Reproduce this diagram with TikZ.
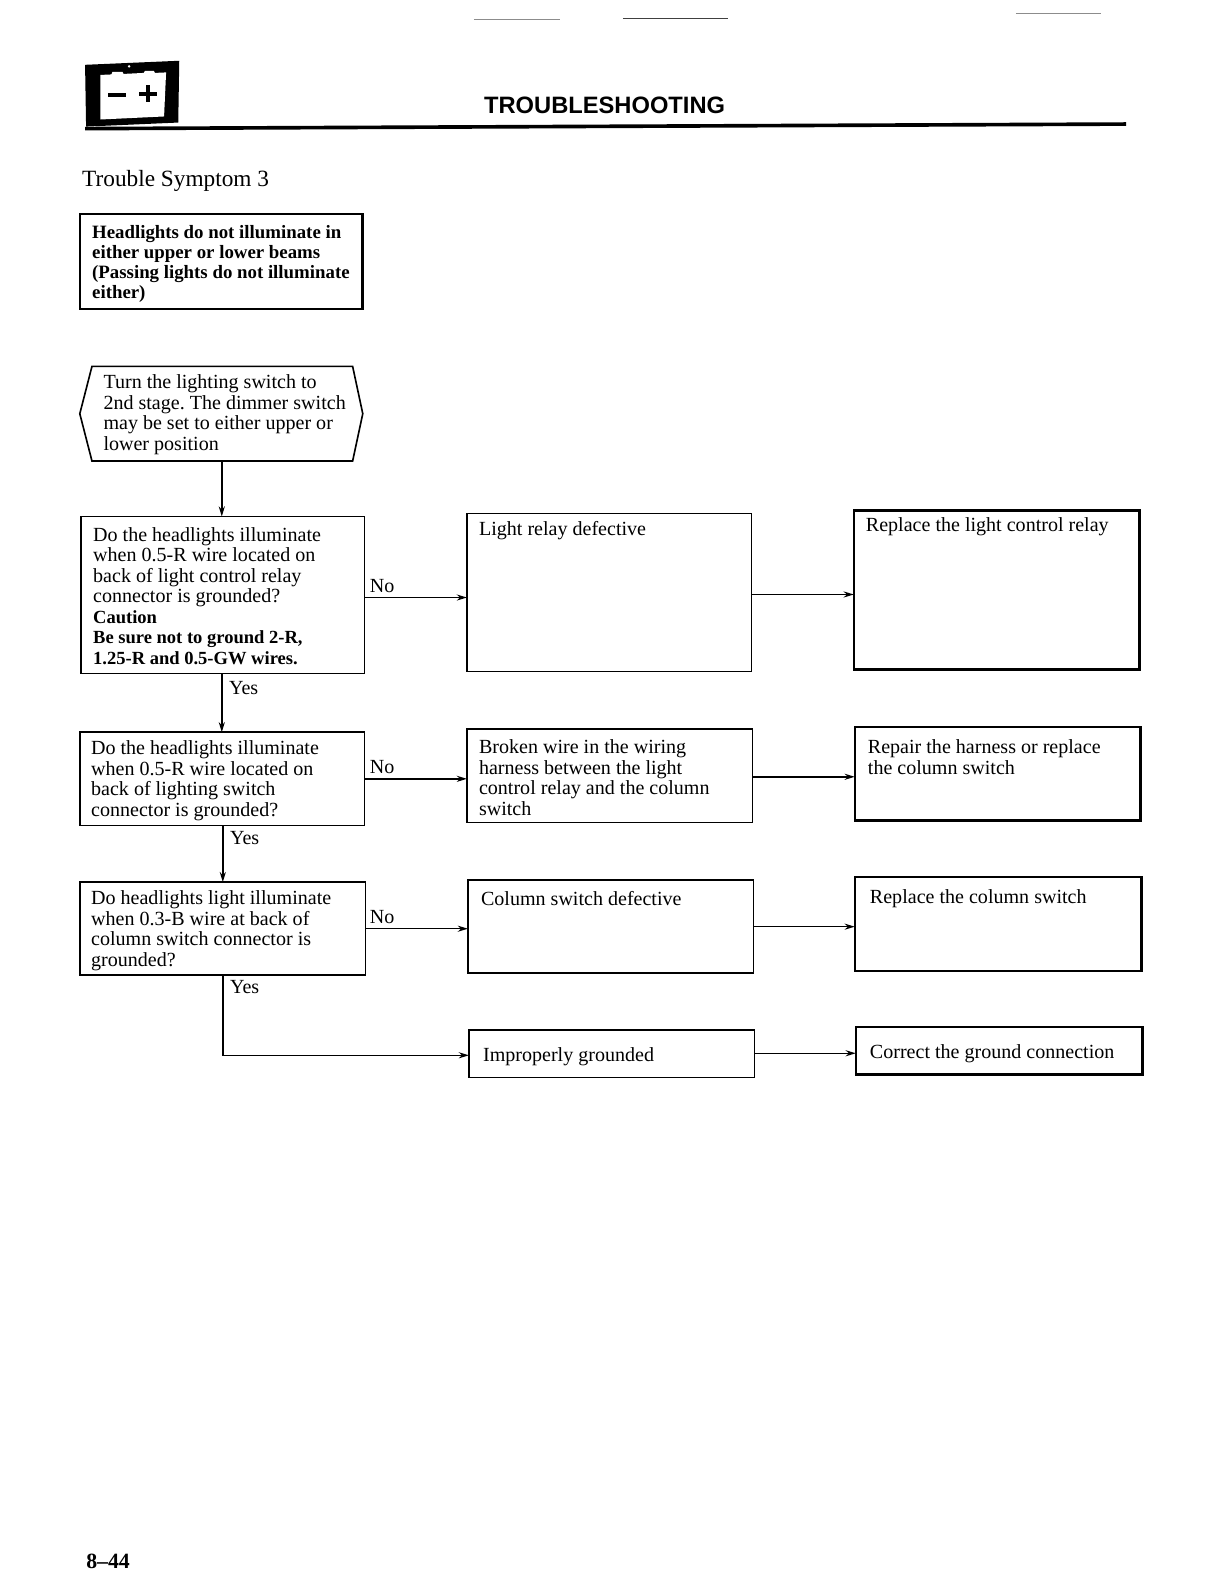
\documentclass[tikz,border=0pt]{standalone}
\usepackage{fontspec}
\setmainfont{Liberation Serif}
\newfontfamily\headfont{Liberation Sans}
\usetikzlibrary{arrows.meta}
\newcommand{\bodysize}{\fontsize{19.8}{20.3}\selectfont}
\newcommand{\warnsize}{\fontsize{18.3}{20.3}\selectfont}
\newcommand{\cellbox}[9]{% style, name, x, y, w, h, padding-left, padding-top, text
  \node[#1,anchor=north west,minimum width=#5pt,minimum height=#6pt] (#2) at (#3,#4)
   {\hspace*{#7pt}\parbox[c][#6pt][t]{\dimexpr#5pt-#7pt\relax}{\vspace{#8pt}\raggedright\frenchspacing\bodysize\strut #9}};}
\tikzset{
  thinbox/.style={draw=black,line width=1.6pt,fill=white,inner sep=0pt,outer sep=0pt},
  thickbox/.style={draw=black,line width=2.3pt,fill=white,inner sep=0pt,outer sep=0pt},
  flow/.style={draw=black,line width=1.5pt,-{Stealth[length=10pt,width=6pt]}},
  lbl/.style={anchor=west,inner sep=0pt,font=\bodysize},
  scanline/.style={draw=black!45,line width=0.8pt},
}
\begin{document}
\begin{tikzpicture}[x=1pt,y=-1pt]
\useasboundingbox (0,0) rectangle (1210.6,1568);
\coordinate (s1) at (468,19); \coordinate (s2) at (553,19);
\coordinate (s3) at (615,18); \coordinate (s4) at (719,18);
\coordinate (s5) at (1003,13); \coordinate (s6) at (1087,13);
\draw[scanline] (s1) -- (s2);
\draw[scanline,draw=black!75] (s3) -- (s4);
\draw[scanline] (s5) -- (s6);
% battery icon
\fill[black] (84,64) -- (177,60) -- (176,121) -- (85,125) -- cycle;
\fill[white] (99,74) -- (110,73.5) -- (111,71) -- (121,71) -- (122,73) -- (142,72) -- (143,70) -- (152,70) -- (153,72) -- (164,71.5) -- (162,115) -- (99,118) -- cycle;
\fill[white] (127.5,65.5) circle (1.3);
\fill[black] (107,92) rectangle (124,95.5);
\fill[black] (137.5,90.5) rectangle (155.5,94.5);
\fill[black] (144.5,83.5) rectangle (148.5,100.5);
% header
\node[inner sep=0pt,font=\headfont\bfseries\fontsize{23.4}{23.4}\selectfont] (title) at (597,104.5) {TROUBLESHOOTING};
\coordinate (ruleA) at (84,127); \coordinate (ruleB) at (1112,122.5);
\draw[line width=3.6pt] (ruleA) -- (ruleB);
\node[anchor=west,inner sep=0pt,font=\fontsize{23}{23}\selectfont] (sym) at (81,179) {Trouble Symptom 3};
\node[anchor=west,inner sep=0pt,font=\bfseries\fontsize{21.5}{21.5}\selectfont] (page) at (85,1542) {8--44};
% boxes
\cellbox{thickbox}{head}{79}{211}{279}{94}{12}{10}{\bfseries\fontsize{18.6}{20}\selectfont Headlights do not illuminate in\\either upper or lower beams\\(Passing lights do not illuminate\\either)}
\node[inner sep=0pt,minimum width=279pt,minimum height=93pt] (hex) at (218.5,408.5) {};
\draw[line width=1.6pt] (hex.west) -- ([xshift=12pt]hex.north west) -- ([xshift=-10pt]hex.north east) -- (hex.east) -- ([xshift=-10pt]hex.south east) -- ([xshift=12pt]hex.south west) -- cycle;
\node[anchor=north west,inner sep=0pt,align=left,font=\bodysize\frenchspacing] (hextext) at (102,370)
  {Turn the lighting switch to\\2nd stage. The dimmer switch\\may be set to either upper or\\lower position};
\cellbox{thinbox}{qa}{80}{510}{280}{155}{12}{10}{Do the headlights illuminate\\when 0.5-R wire located on\\back of light control relay\\connector is grounded?\\{\bfseries\warnsize Caution\\Be sure not to ground 2-R,\\1.25-R and 0.5-GW wires.}}
\cellbox{thinbox}{ca}{461}{507}{281}{156}{12}{7.5}{Light relay defective}
\cellbox{thickbox}{ra}{843}{504}{282}{157}{12}{7}{Replace the light control relay}
\cellbox{thinbox}{qb}{79}{723}{281}{92}{11}{8}{Do the headlights illuminate\\when 0.5-R wire located on\\back of lighting switch\\connector is grounded?}
\cellbox{thinbox}{cb}{461}{720}{282}{92}{12}{10}{Broken wire in the wiring\\harness between the light\\control relay and the column\\switch}
\cellbox{thickbox}{rb}{844}{718}{282}{92}{13}{12}{Repair the harness or replace\\the column switch}
\cellbox{thinbox}{qc}{79}{871}{282}{92}{11}{8}{Do headlights light illuminate\\when 0.3-B wire at back of\\column switch connector is\\grounded?}
\cellbox{thinbox}{cc}{462}{869}{282}{92}{13}{11}{Column switch defective}
\cellbox{thickbox}{rc}{844}{866}{283}{93}{15}{12}{Replace the column switch}
\cellbox{thinbox}{cd}{463}{1017}{282}{47}{14}{17}{Improperly grounded}
\cellbox{thickbox}{rd}{845}{1014}{283}{47}{14}{17}{Correct the ground connection}
% connectors
\coordinate (ya) at (0,590); \coordinate (yb) at (0,587);
\coordinate (yc) at (0,769); \coordinate (yd) at (0,767);
\coordinate (ye) at (0,917); \coordinate (yf) at (0,915);
\coordinate (yg) at (0,1040);
\coordinate (xa) at (219,0); \coordinate (xb) at (220,0); \coordinate (xc) at (220,0);
\draw[flow] (xa |- hex.south) -- (xa |- qa.north);
\draw[flow] (xa |- qa.south) -- (xa |- qb.north);
\draw[flow] (xb |- qb.south) -- (xb |- qc.north);
\coordinate (bend) at (220,1042);
\draw[flow] (xc |- qc.south) -- (bend) -- (bend -| cd.west);
\draw[flow] (qa.east |- ya) -- (ca.west |- ya);
\draw[flow] (ca.east |- yb) -- (ra.west |- yb);
\draw[flow] (qb.east |- yc) -- (cb.west |- yc);
\draw[flow] (cb.east |- yd) -- (rb.west |- yd);
\draw[flow] (qc.east |- ye) -- (cc.west |- ye);
\draw[flow] (cc.east |- yf) -- (rc.west |- yf);
\draw[flow] (cd.east |- yg) -- (rd.west |- yg);
% labels
\node[lbl] (no1) at (365,579) {No};
\node[lbl] (no2) at (365,757) {No};
\node[lbl] (no3) at (365,905) {No};
\node[lbl] (yes1) at (226,679) {Yes};
\node[lbl] (yes2) at (227,827) {Yes};
\node[lbl] (yes3) at (227,975) {Yes};
\end{tikzpicture}
\end{document}
